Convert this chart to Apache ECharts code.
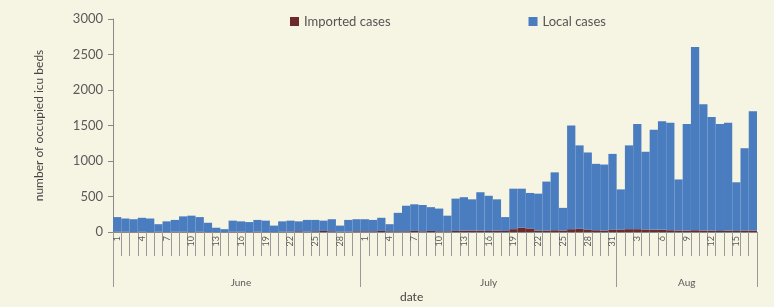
<!DOCTYPE html>
<html>
<head>
    <meta charset="utf-8">
    <title>icu beds</title>
    <style type="text/css">
        html, body { margin: 0; padding: 0; background: #f6f4e3; }
        #chart { width: 774px; height: 307px; }
    </style>
</head>
<body>
    <div id="chart"></div>
    <script src="https://cdn.jsdelivr.net/npm/echarts@6/dist/echarts.min.js"></script>
    <script type="text/javascript">
        // months shown on the axis and the days in each
        var months = ['June', 'July', 'Aug'];
        var monthDays = [30, 31, 17];
        var yTicks = [0, 500, 1000, 1500, 2000, 2500, 3000];

        // imported cases (dark red, bottom of the stack)
        var importedJune = [5,5,0,5,0,5,0,5,5,0, 5,0,0,0,5,5,0,5,0,0, 5,5,10,5,10,15,10,5,5,10];
        var importedJuly = [10,10,15,10,10,10,15,10,15,10, 10,15,20,20,20,15,20,15,40,60, 50,20,20,25,20,40,45,30,25,20,30];
        var importedAug  = [35,40,40,35,30,30,25,20,20,25,20,20,15,20,15,20,20];

        // local cases (blue)
        var localJune = [205,185,180,195,190,105,150,165,215,230,205,130,60,40,155,145,140,165,160,90,145,155,140,165,160,145,170,85,165,170];
        var localJuly = [170,160,185,100,260,360,375,370,335,320,220,455,470,440,540,495,440,195,570,550,500,520,690,815,320,1460,1175,1090,935,930,1070];
        var localAug  = [565,1180,1480,1095,1410,1530,1515,720,1500,2580,1780,1600,1505,1520,685,1160,1680];

        var imported = importedJune.concat(importedJuly, importedAug);
        var local = localJune.concat(localJuly, localAug);

        // categories like "1 June"; also remember where each month starts / its middle
        var categories = [];
        var monthStart = {};
        var monthMid = {};
        var idx = 0;
        for (var m = 0; m < months.length; m++) {
            monthStart[idx] = true;
            monthMid[idx + Math.floor(monthDays[m] / 2)] = months[m];
            for (var d = 1; d <= monthDays[m]; d++) {
                categories.push(d + ' ' + months[m]);
            }
            idx += monthDays[m];
        }
        monthStart[idx] = true;

        var txt = '#5a5a5a';
        var font = 'Lato, "Liberation Sans", sans-serif';

        var chart = echarts.init(document.getElementById('chart'));
        chart.setOption({
            backgroundColor: '#f6f4e3',
            animation: false,
            textStyle: { fontFamily: font },
            title: {
                text: 'date',
                left: 395, top: 286,
                textStyle: { fontSize: 12, fontWeight: 'normal', color: '#444', fontFamily: font }
            },
            legend: {
                left: 285, top: 10,
                itemWidth: 9, itemHeight: 9, itemGap: 138,
                icon: 'rect',
                textStyle: { fontSize: 13, color: '#555', fontFamily: font },
                data: ['Imported cases', 'Local cases']
            },
            grid: { left: 113, right: 17, top: 19, bottom: 75 },
            xAxis: [{
                type: 'category',
                data: categories,
                axisLine: { lineStyle: { color: '#888' } },
                axisTick: { show: true, interval: 0, length: 24, lineStyle: { color: '#999' } },
                axisLabel: {
                    interval: 2, rotate: 90, fontSize: 9, color: txt, margin: 4,
                    formatter: function (v) { return v.split(' ')[0]; }
                }
            }, {
                type: 'category',
                data: categories,
                position: 'bottom',
                axisLine: { show: false },
                axisTick: {
                    show: true, length: 55, lineStyle: { color: '#999' },
                    interval: function (i) { return !!monthStart[i]; }
                },
                axisLabel: {
                    fontSize: 10, color: txt, margin: 46,
                    interval: function (i) { return !!monthMid[i]; },
                    formatter: function (v) { return v.split(' ')[1]; }
                }
            }],
            yAxis: {
                type: 'value',
                min: yTicks[0], max: yTicks[yTicks.length - 1], interval: 500,
                name: 'number of occupied icu beds',
                nameLocation: 'middle', nameGap: 68, nameRotate: 90,
                nameTextStyle: { fontSize: 12, color: '#444' },
                axisLine: { show: true, lineStyle: { color: '#888' } },
                axisTick: { show: true, length: 5, lineStyle: { color: '#888' } },
                axisLabel: {
                    fontSize: 13, color: txt, margin: 10,
                    formatter: function (v) { return String(v); }
                },
                splitLine: { show: false }
            },
            series: [{
                name: 'Imported cases',
                type: 'bar',
                stack: 'all',
                barCategoryGap: '0%',
                itemStyle: { color: '#6e2a2a' },
                data: imported
            }, {
                name: 'Local cases',
                type: 'bar',
                stack: 'all',
                barCategoryGap: '0%',
                itemStyle: { color: '#4a7cc0' },
                data: local
            }]
        });
    </script>
</body>
</html>
